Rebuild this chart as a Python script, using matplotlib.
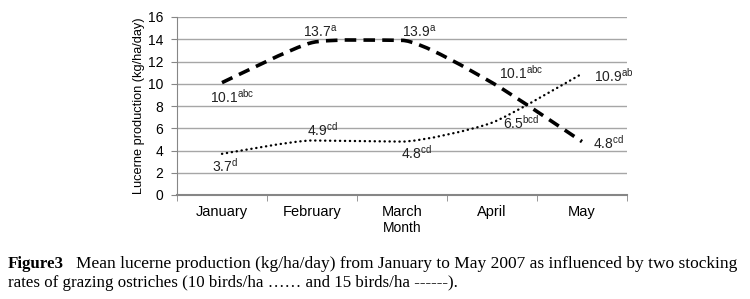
import matplotlib.pyplot as plt
from matplotlib.path import Path
from matplotlib.patches import PathPatch

plt.rcParams["font.family"] = ["Liberation Sans", "DejaVu Sans"]
plt.rcParams["mathtext.default"] = "regular"

months = ["January", "February", "March", "April", "May"]
birds_10 = [3.7, 4.9, 4.8, 6.5, 10.9]
birds_15 = [10.1, 13.7, 13.9, 10.1, 4.8]
letters_10 = ["d", "cd", "cd", "bcd", "ab"]
letters_15 = ["abc", "a", "a", "abc", "cd"]

# label offsets in pixels (dx, dy) from each point
off_10 = [(-10, -12), (-5, 11), (-1, -11), (11, 0), (12, -2)]
off_15 = [(-12, -14), (-9, 11), (0, 9), (7, 10), (11, -1)]


def smooth_path(xs, ys, k=0.6):
    # smoothed line like the spreadsheet one: cubic Beziers, no overshoot at peaks
    n = len(xs)
    tang = []
    for i in range(n):
        a, b = max(i - 1, 0), min(i + 1, n - 1)
        mx = (xs[b] - xs[a]) / 2
        my = (ys[b] - ys[a]) / 2
        if 0 < i < n - 1 and (ys[i] - ys[a]) * (ys[b] - ys[i]) <= 0:
            my = 0
        tang.append((mx * k, my * k))
    verts = [(xs[0], ys[0])]
    codes = [Path.MOVETO]
    for i in range(n - 1):
        c1 = (xs[i] + tang[i][0] / 3, ys[i] + tang[i][1] / 3)
        c2 = (xs[i + 1] - tang[i + 1][0] / 3, ys[i + 1] - tang[i + 1][1] / 3)
        verts += [c1, c2, (xs[i + 1], ys[i + 1])]
        codes += [Path.CURVE4] * 3
    return Path(verts, codes)


fig = plt.figure(figsize=(7.5, 2.99), dpi=100)
ax = fig.add_axes([177 / 750, 1 - 195 / 299, 450 / 750, 178 / 299])

x = list(range(len(months)))
ax.add_patch(PathPatch(smooth_path(x, birds_15), fill=False, color="black",
                       lw=2.6, linestyle=(0, (3.2, 2.0)), capstyle="butt"))
ax.add_patch(PathPatch(smooth_path(x, birds_10), fill=False, color="black",
                       lw=1.7, linestyle=(0, (0.1, 2.0)), capstyle="round"))

for vals, letters, offs in [(birds_10, letters_10, off_10), (birds_15, letters_15, off_15)]:
    for i, (v, l, o) in enumerate(zip(vals, letters, offs)):
        ax.annotate(f"{v}$^{{{l}}}$", (i, v), xytext=o, textcoords="offset pixels",
                    ha="left", va="center", fontsize=10, color="#222222")

ax.set_xlim(-0.5, 4.5)
ax.set_ylim(0, 16)
ax.set_yticks(range(0, 17, 2))
ax.set_xticks(x)
ax.set_xticklabels(months)
ax.set_xticks([i - 0.5 for i in range(6)], minor=True)
ax.tick_params(axis="x", which="major", length=0, pad=7, labelsize=10.5)
ax.tick_params(axis="x", which="minor", length=4, color="#868686")
ax.tick_params(axis="y", length=4, color="#868686", labelsize=10, pad=6)
ax.grid(axis="y", color="#a6a6a6", lw=1)
ax.set_axisbelow(True)
for s in ["top", "right"]:
    ax.spines[s].set_visible(False)
ax.spines["left"].set_color("#868686")
ax.spines["bottom"].set_color("#868686")
ax.spines["bottom"].set_linewidth(1.5)
ax.set_ylabel("Lucerne production (kg/ha/day)", fontsize=9.2, labelpad=2)
ax.set_xlabel("Month", fontsize=10, labelpad=2)

serif = ["Liberation Serif", "DejaVu Serif"]
fig.text(8 / 750, 1 - 264 / 299, "Figure3", family=serif, fontsize=12.2,
         weight="bold", va="center")
fig.text(76 / 750, 1 - 264 / 299,
         "Mean lucerne production (kg/ha/day) from January to May 2007 as influenced by two stocking",
         family=serif, fontsize=12.55, va="center")
fig.text(8 / 750, 1 - 283 / 299,
         "rates of grazing ostriches (10 birds/ha \u2026\u2026 and 15 birds/ha ------).",
         family=serif, fontsize=12.2, va="center")

fig.savefig("out.png", dpi=100)
